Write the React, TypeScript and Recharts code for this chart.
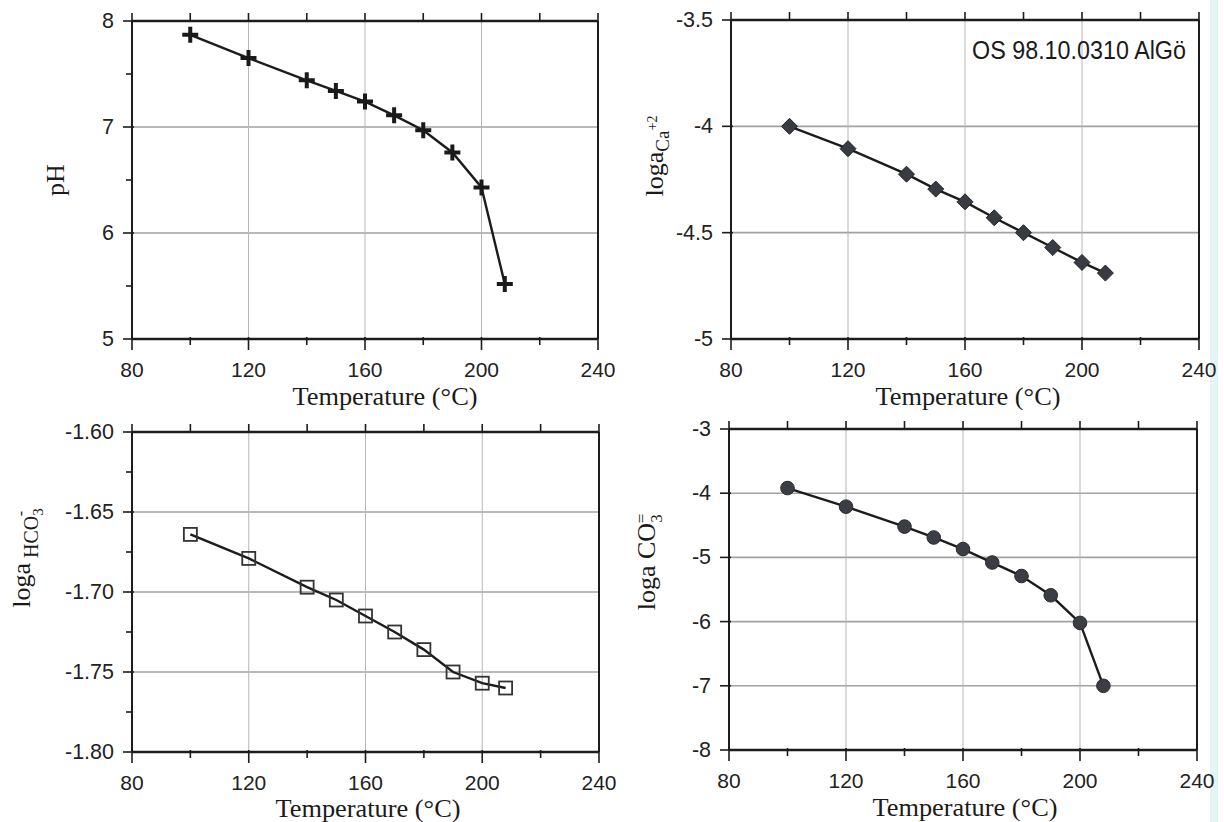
import React from 'react';
import { LineChart, Line, XAxis, YAxis, CartesianGrid } from 'recharts';

// temperature steps of the model run (°C)
const temperature = [100, 120, 140, 150, 160, 170, 180, 190, 200, 208];

// values
const phValues = [7.87, 7.65, 7.44, 7.34, 7.24, 7.11, 6.97, 6.76, 6.43, 5.52];
const caValues = [-4.0, -4.105, -4.225, -4.295, -4.355, -4.43, -4.5, -4.57, -4.64, -4.69];
const hco3Values = [-1.664, -1.679, -1.697, -1.705, -1.715, -1.725, -1.736, -1.75, -1.757, -1.76];
const co3Values = [-3.92, -4.21, -4.52, -4.69, -4.87, -5.08, -5.29, -5.59, -6.02, -7.0];

// axes
const xTicks = [80, 100, 120, 140, 160, 180, 200, 220, 240];
const xTickLabels = [80, 120, 160, 200, 240];
const xGrid = [120, 160, 200];

const phTicks = [5, 5.5, 6, 6.5, 7, 7.5, 8];
const phTickLabels = [5, 6, 7, 8];
const phGrid = [6, 7];

const caTicks = [-5, -4.5, -4, -3.5];
const caTickLabels = [-5, -4.5, -4, -3.5];
const caGrid = [-4.5, -4];

const hco3Ticks = [-1.8, -1.775, -1.75, -1.725, -1.7, -1.675, -1.65, -1.625, -1.6];
const hco3TickLabels = [-1.8, -1.75, -1.7, -1.65, -1.6];
const hco3Grid = [-1.75, -1.7, -1.65];

const co3Ticks = [-8, -7, -6, -5, -4, -3];
const co3TickLabels = [-8, -7, -6, -5, -4, -3];
const co3Grid = [-7, -6, -5, -4];

const INK = '#1c1c1c';
const SANS = '"Liberation Sans", Arial, sans-serif';
const SERIF = '"Liberation Serif", "Times New Roman", serif';

const isMajor = (labels: number[], v: number) => labels.some((l) => Math.abs(l - v) < 1e-9);

const BottomTick = (props: any) => {
  const { x, y, payload, labels } = props;
  const major = isMajor(labels, payload.value);
  return (
    <g>
      <line x1={x} x2={x} y1={y - 2} y2={y + (major ? 11 : 6)} stroke={INK} strokeWidth={1.6} />
      {major && (
        <text x={x} y={y + 30} textAnchor="middle" dominantBaseline="central" fontFamily={SANS} fontSize={21} fill="#222">
          {payload.value}
        </text>
      )}
    </g>
  );
};

const TopTick = (props: any) => {
  const { x, y } = props;
  return <line x1={x} x2={x} y1={y} y2={y - 8} stroke={INK} strokeWidth={1.6} />;
};

const LeftTick = (props: any) => {
  const { x, y, payload, labels, fmt } = props;
  const major = isMajor(labels, payload.value);
  return (
    <g>
      <line x1={x - (major ? 9 : 6)} x2={x + (major ? 2 : 0)} y1={y} y2={y} stroke={INK} strokeWidth={1.6} />
      {major && (
        <text x={x - 18} y={y} textAnchor="end" dominantBaseline="central" fontFamily={SANS} fontSize={21.5} fill="#222">
          {fmt(payload.value)}
        </text>
      )}
    </g>
  );
};

const RightTick = (props: any) => {
  const { x, y } = props;
  return <line x1={x} x2={x + 8} y1={y} y2={y} stroke={INK} strokeWidth={1.6} />;
};

const plusDot = (p: any) => (
  <path
    key={`d-${p.index}`}
    d={`M${p.cx - 8},${p.cy}H${p.cx + 8}M${p.cx},${p.cy - 8}V${p.cy + 8}`}
    stroke="#1a1a1a"
    strokeWidth={4}
    fill="none"
  />
);
const diamondDot = (p: any) => (
  <path
    key={`d-${p.index}`}
    d={`M${p.cx},${p.cy - 8}L${p.cx + 8},${p.cy}L${p.cx},${p.cy + 8}L${p.cx - 8},${p.cy}Z`}
    fill="#383c42"
    stroke="#222"
    strokeWidth={1}
  />
);
const squareDot = (p: any) => (
  <rect key={`d-${p.index}`} x={p.cx - 6.5} y={p.cy - 6.5} width={13} height={13} fill="none" stroke="#333" strokeWidth={1.8} />
);
const circleDot = (p: any) => <circle key={`d-${p.index}`} cx={p.cx} cy={p.cy} r={6.8} fill="#3a3e44" stroke="#2a2a2a" strokeWidth={1} />;

const VTitle = ({ x, y, children }: { x: number; y: number; children: React.ReactNode }) => (
  <text x={x} y={y} transform={`rotate(-90 ${x} ${y})`} textAnchor="middle" fontFamily={SERIF} fontSize={26} fill="#1a1a1a">
    {children}
  </text>
);

const XTitle = ({ x, y }: { x: number; y: number }) => (
  <text x={x} y={y} textAnchor="middle" dominantBaseline="central" fontFamily={SERIF} fontSize={25} textLength={185} lengthAdjust="spacingAndGlyphs" fill="#1a1a1a">
    Temperature (°C)
  </text>
);

type PanelProps = {
  left: number;
  top: number;
  width: number;
  height: number;
  margin: { top: number; right: number; bottom: number; left: number };
  values: number[];
  yDomain: [number, number];
  yTicks: number[];
  yTickLabels: number[];
  yGrid: number[];
  fmt: (v: number) => string;
  dot: (p: any) => React.ReactElement;
  yTitle: React.ReactNode;
  xTitle: { x: number; y: number };
  note?: React.ReactNode;
};

const Panel = ({ left, top, width, height, margin, values, yDomain, yTicks, yTickLabels, yGrid, fmt, dot, yTitle, xTitle, note }: PanelProps) => {
  const data = values.map((v, i) => ({ t: temperature[i], v }));
  return (
    <div style={{ position: 'absolute', left, top, width, height }}>
      <LineChart width={width} height={height} data={data} margin={margin}>
        <CartesianGrid vertical={false} horizontalValues={yGrid} stroke="#a2a2a2" strokeWidth={1.6} />
        <CartesianGrid horizontal={false} verticalValues={xGrid} stroke="#b6b6b6" strokeWidth={1} />
        <XAxis
          dataKey="t"
          type="number"
          domain={[80, 240]}
          ticks={xTicks}
          interval={0}
          height={62}
          tickSize={0}
          tickMargin={0}
          tickLine={false}
          axisLine={{ stroke: INK, strokeWidth: 2.6 }}
          tick={(p: any) => <BottomTick {...p} labels={xTickLabels} />}
          label={() => <XTitle x={xTitle.x} y={xTitle.y} />}
        />
        <XAxis
          xAxisId="top"
          orientation="top"
          dataKey="t"
          type="number"
          domain={[80, 240]}
          ticks={xTicks}
          interval={0}
          height={12}
          tickSize={0}
          tickMargin={0}
          tickLine={false}
          axisLine={{ stroke: INK, strokeWidth: 2.6 }}
          tick={(p: any) => <TopTick {...p} />}
          label={note ? () => note : undefined}
        />
        <YAxis
          type="number"
          domain={yDomain}
          ticks={yTicks}
          interval={0}
          width={60}
          tickSize={0}
          tickMargin={0}
          tickLine={false}
          axisLine={{ stroke: INK, strokeWidth: 2 }}
          tick={(p: any) => <LeftTick {...p} labels={yTickLabels} fmt={fmt} />}
          label={() => yTitle}
        />
        <YAxis
          yAxisId="right"
          orientation="right"
          type="number"
          domain={yDomain}
          ticks={yTickLabels}
          interval={0}
          width={12}
          tickSize={0}
          tickMargin={0}
          tickLine={false}
          axisLine={{ stroke: INK, strokeWidth: 2 }}
          tick={(p: any) => <RightTick {...p} />}
        />
        <Line type="linear" dataKey="v" stroke={INK} strokeWidth={2.4} dot={dot} activeDot={false} isAnimationActive={false} />
      </LineChart>
    </div>
  );
};

export default function App() {
  return (
    <div style={{ position: 'absolute', left: 0, top: 0, width: 1224, height: 822, background: '#fff', overflow: 'hidden' }}>
      <div style={{ position: 'absolute', left: 1210, top: 0, width: 8, height: 822, background: '#e4f5f5' }} />
      <Panel
        left={0}
        top={0}
        width={640}
        height={410}
        margin={{ top: 9, right: 30, bottom: 9, left: 72 }}
        values={phValues}
        yDomain={[5, 8]}
        yTicks={phTicks}
        yTickLabels={phTickLabels}
        yGrid={phGrid}
        fmt={(v) => String(v)}
        dot={plusDot}
        yTitle={<VTitle x={64} y={180}>pH</VTitle>}
        xTitle={{ x: 385, y: 396 }}
      />
      <Panel
        left={612}
        top={0}
        width={612}
        height={410}
        margin={{ top: 8, right: 13, bottom: 9, left: 59 }}
        values={caValues}
        yDomain={[-5, -3.5]}
        yTicks={caTicks}
        yTickLabels={caTickLabels}
        yGrid={caGrid}
        fmt={(v) => String(v)}
        dot={diamondDot}
        yTitle={
          <VTitle x={51} y={156}>
            loga
            <tspan dy={6} fontSize={19}>Ca</tspan>
            <tspan dy={-12} fontSize={14}>+2</tspan>
          </VTitle>
        }
        xTitle={{ x: 356, y: 396 }}
        note={
          <text x={360} y={50} dominantBaseline="central" fontFamily={SANS} fontSize={25} textLength={214} lengthAdjust="spacingAndGlyphs" fill="#1a1a1a">
            OS 98.10.0310 AlGö
          </text>
        }
      />
      <Panel
        left={0}
        top={410}
        width={640}
        height={412}
        margin={{ top: 10, right: 29, bottom: 8, left: 72 }}
        values={hco3Values}
        yDomain={[-1.8, -1.6]}
        yTicks={hco3Ticks}
        yTickLabels={hco3TickLabels}
        yGrid={hco3Grid}
        fmt={(v) => v.toFixed(2)}
        dot={squareDot}
        yTitle={
          <VTitle x={30} y={148}>
            loga
            <tspan dy={8} fontSize={20}> HCO</tspan>
            <tspan dy={5} fontSize={15}>3</tspan>
            <tspan dx={-8} dy={-17} fontSize={16}>-</tspan>
          </VTitle>
        }
        xTitle={{ x: 368, y: 398 }}
      />
      <Panel
        left={612}
        top={410}
        width={612}
        height={412}
        margin={{ top: 7, right: 15, bottom: 10, left: 57 }}
        values={co3Values}
        yDomain={[-8, -3]}
        yTicks={co3Ticks}
        yTickLabels={co3TickLabels}
        yGrid={co3Grid}
        fmt={(v) => String(v)}
        dot={circleDot}
        yTitle={
          <VTitle x={43} y={152}>
            loga CO
            <tspan dy={7} fontSize={17}>3</tspan>
            <tspan dx={-9} dy={-15} fontSize={17}>=</tspan>
          </VTitle>
        }
        xTitle={{ x: 353, y: 397 }}
      />
    </div>
  );
}
